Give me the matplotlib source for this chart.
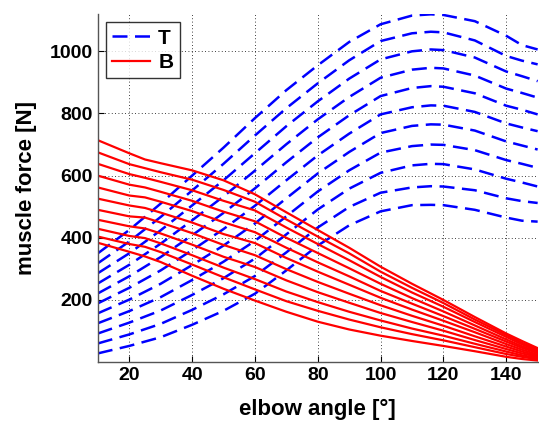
import numpy as np
import matplotlib
matplotlib.use("Agg")
import matplotlib.pyplot as plt

plt.rcParams['font.family'] = ['Liberation Sans', 'DejaVu Sans']
plt.rcParams['font.weight'] = 'bold'

# elbow angle samples [deg]
angT = [10, 20, 30, 40, 50, 60, 70, 80, 90, 100, 110, 116, 120, 130, 140, 145, 150]
angB = [10, 20, 25, 30, 40, 50, 60, 70, 80, 90, 100, 110, 120, 130, 140, 145, 150]

# triceps forces (top curve first)
T = [
    [350, 425, 510, 600, 690, 785, 875, 955, 1030, 1087, 1115, 1119, 1117, 1097, 1050, 1020, 1006],
    [318, 388, 467, 552, 638, 729, 817, 897, 971, 1033, 1058, 1063, 1061, 1035, 985, 970, 958],
    [286, 350, 424, 504, 585, 672, 759, 839, 912, 974, 1000, 1006, 1004, 980, 935, 920, 904],
    [253, 313, 381, 456, 533, 616, 701, 781, 853, 915, 941, 947, 945, 922, 880, 866, 851],
    [221, 276, 338, 408, 480, 559, 643, 723, 794, 856, 882, 888, 886, 865, 825, 812, 797],
    [189, 239, 295, 360, 428, 503, 585, 665, 735, 797, 820, 826, 825, 805, 768, 755, 743],
    [157, 201, 252, 312, 375, 446, 527, 607, 676, 737, 760, 765, 764, 745, 710, 697, 684],
    [125, 164, 209, 264, 323, 390, 469, 549, 617, 674, 695, 700, 699, 682, 650, 638, 625],
    [92, 127, 166, 216, 270, 333, 411, 491, 558, 609, 633, 638, 637, 620, 590, 578, 565],
    [60, 89, 123, 168, 218, 277, 353, 433, 499, 545, 562, 566, 565, 553, 527, 518, 512],
    [28, 52, 80, 120, 165, 220, 295, 375, 440, 485, 505, 506, 505, 490, 465, 455, 452],
]

# biceps forces (top curve first)
B = [
    [714, 672, 652, 640, 617, 585, 540, 482, 425, 368, 307, 252, 200, 145, 92, 68, 45],
    [675, 637, 624, 611, 587, 554, 516, 459, 404, 350, 291, 239, 190, 137, 87, 62, 41],
    [638, 605, 593, 580, 553, 519, 488, 433, 380, 328, 274, 224, 178, 129, 81, 57, 37],
    [600, 571, 562, 548, 519, 484, 453, 400, 351, 302, 252, 206, 163, 118, 73, 51, 33],
    [562, 536, 530, 516, 486, 450, 418, 368, 321, 276, 229, 188, 148, 107, 66, 46, 29],
    [526, 504, 496, 481, 449, 412, 383, 335, 291, 249, 207, 169, 133, 96, 58, 40, 24],
    [490, 469, 465, 449, 415, 377, 344, 299, 258, 220, 183, 149, 117, 83, 50, 34, 20],
    [458, 437, 430, 414, 378, 339, 306, 263, 225, 191, 158, 129, 101, 71, 42, 28, 17],
    [429, 406, 399, 382, 344, 304, 267, 227, 193, 162, 134, 108, 85, 59, 34, 22, 13],
    [404, 380, 371, 354, 314, 273, 234, 196, 165, 137, 112, 90, 70, 48, 26, 17, 9],
    [384, 355, 340, 322, 278, 236, 198, 162, 130, 105, 85, 68, 52, 35, 17, 10, 5],
]

fig = plt.figure(figsize=(5.39, 4.25), dpi=100)
ax = fig.add_axes([0.1815, 0.148, 0.816, 0.819])

for i, row in enumerate(T):
    ax.plot(angT, row, color=(0, 0, 1), lw=1.8, dashes=(6, 3),
            label='T' if i == 0 else None)
for i, row in enumerate(B):
    ax.plot(angB, row, color=(1, 0, 0), lw=1.6,
            label='B' if i == 0 else None)

ax.set_xlim(10, 150)
ax.set_ylim(0, 1120)
ax.set_xticks([20, 40, 60, 80, 100, 120, 140])
ax.set_yticks([200, 400, 600, 800, 1000])
ax.grid(True, color='k', linestyle=(0, (1, 3)), linewidth=0.6)
ax.tick_params(direction='in', length=4, labelsize=14, width=0.8)
for s in ['top', 'right']:
    ax.spines[s].set_visible(False)
for s in ['left', 'bottom']:
    ax.spines[s].set_color('#555555')
    ax.spines[s].set_linewidth(1.0)
for lab in ax.get_xticklabels() + ax.get_yticklabels():
    lab.set_fontweight('bold')

ax.set_xlabel('elbow angle [°]', fontsize=16, fontweight='bold', labelpad=11)
ax.set_ylabel('muscle force [N]', fontsize=16, fontweight='bold', labelpad=9)

leg = ax.legend(loc='upper left', fontsize=15, frameon=True, fancybox=False,
                handlelength=1.8, borderaxespad=0.4, labelspacing=0.25,
                handletextpad=0.4, borderpad=0.3)
leg.get_frame().set_edgecolor('k')
leg.get_frame().set_linewidth(1.0)
for t in leg.get_texts():
    t.set_fontweight('bold')

fig.savefig('out.png', dpi=100)
